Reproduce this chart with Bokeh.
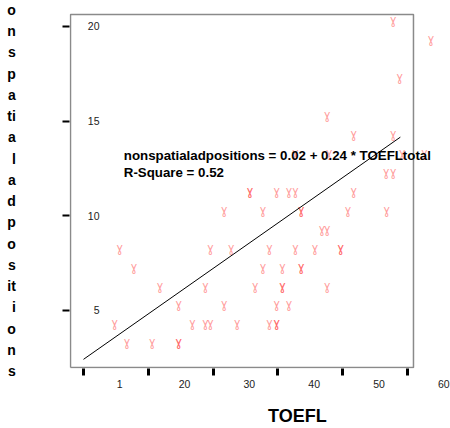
from bokeh.plotting import figure
from bokeh.models import ColumnDataSource, Range1d, FixedTicker, LinearAxis, Label
from bokeh.core.properties import value
from bokeh.embed import file_html
from bokeh.resources import INLINE

# ---- data ----
toefl = [57.8, 63.6, 58.8, 47.6, 51.7, 57.8,
         42.7, 47.9, 59.2, 62.6, 56.7, 57.8,
         35.7, 35.7, 39.8, 41.7, 42.7, 51.7,
         31.7, 37.7, 43.6, 43.6, 50.8, 56.8,
         46.8, 47.6,
         15.6, 29.6, 32.8, 38.7, 42.7, 45.7, 49.7, 49.7,
         17.8, 37.7, 40.7, 43.6, 43.6,
         21.8, 28.8, 36.5, 40.7, 40.7, 47.6,
         24.7, 31.7, 39.8, 41.7,
         14.8, 26.8, 28.8, 29.6, 33.7, 38.7, 39.8, 39.8,
         16.7, 20.6, 24.7, 24.7]
nonspatial = [20, 19, 17, 15, 14, 14,
              13, 13, 13, 13, 12, 12,
              11, 11, 11, 11, 11, 11,
              10, 10, 10, 10, 10, 10,
              9, 9,
              8, 8, 8, 8, 8, 8, 8, 8,
              7, 7, 7, 7, 7,
              6, 6, 6, 6, 6, 6,
              5, 5, 5, 5,
              4, 4, 4, 4, 4, 4, 4, 4,
              3, 3, 3, 3]

intercept = 0.02
slope = 0.24
r_square = 0.52
fit_x = [10.0, 58.9]
fit_y = [intercept + slope * v for v in fit_x]

x_ticks = [10, 20, 30, 40, 50, 60]
x_tick_labels = ["1", "20", "30", "40", "50", "60"]
x_label_shift = 5.6
y_ticks = [5, 10, 15, 20]
y_label_letters = ["o", "n", "s", "p", "a", "ti", "a", "l", "a",
                   "d", "p", "o", "s", "it", "i", "o", "n", "s"]
x_title = "TOEFL"
x_title_at = 43.0

# ---- figure ----
X0, X1 = 7.8395, 66.64
Y0, Y1 = 1.9366, 20.739
BX0, BX1, BY0, BY1 = 7.994, 60.926, 1.989, 20.634

p = figure(width=450, height=428, output_backend="svg", toolbar_location=None,
           x_range=Range1d(X0, X1), y_range=Range1d(Y0, Y1),
           min_border_left=69, min_border_right=0, min_border_top=12,
           min_border_bottom=60, x_axis_location=None, y_axis_location=None)
p.outline_line_color = None
p.xgrid.visible = False
p.ygrid.visible = False
p.background_fill_color = "white"
p.border_fill_color = "white"

FONT = "Liberation Sans"

# x axis: value ticks as minor ticks, labels shifted right
lab_pos = [t + x_label_shift for t in x_ticks]
xax = LinearAxis(ticker=FixedTicker(ticks=lab_pos, minor_ticks=x_ticks))
xax.major_label_overrides = {pos: lab for pos, lab in zip(lab_pos, x_tick_labels)}
xax.axis_line_color = None
xax.major_tick_out = 0
xax.major_tick_in = 0
xax.major_tick_line_color = None
xax.minor_tick_out = 7
xax.minor_tick_in = 0
xax.minor_tick_line_width = 3
xax.minor_tick_line_color = "black"
xax.major_label_standoff = 4
xax.major_label_text_font = FONT
xax.major_label_text_font_size = "10.5px"
xax.major_label_text_color = "#222222"
p.add_layout(xax, "below")

# x title as a second axis (single labelled tick)
tax = LinearAxis(ticker=FixedTicker(ticks=[x_title_at], minor_ticks=[]))
tax.major_label_overrides = {x_title_at: x_title}
tax.axis_line_color = None
tax.major_tick_line_color = None
tax.minor_tick_line_color = None
tax.major_tick_out = 0
tax.major_tick_in = 0
tax.major_label_standoff = 15
tax.major_label_text_font = FONT
tax.major_label_text_font_style = "bold"
tax.major_label_text_font_size = "18px"
tax.major_label_text_color = "black"
p.add_layout(tax, "below")

yax = LinearAxis(ticker=FixedTicker(ticks=y_ticks, minor_ticks=[]))
yax.axis_line_color = None
yax.major_tick_out = 7
yax.major_tick_in = 0
yax.major_tick_line_width = 2
yax.major_tick_line_color = "black"
yax.minor_tick_line_color = None
yax.major_label_standoff = -37
yax.major_label_text_font = FONT
yax.major_label_text_font_size = "10.5px"
yax.major_label_text_color = "#222222"
yax.axis_label = "\n".join(y_label_letters)
if "axis_label_orientation" in LinearAxis.properties():
    yax.axis_label_orientation = "horizontal"
yax.axis_label_standoff = 69
yax.axis_label_text_font = FONT
yax.axis_label_text_font_style = "bold"
yax.axis_label_text_font_size = "14px"
yax.axis_label_text_line_height = 1.329
yax.axis_label_text_color = "black"
p.add_layout(yax, "left")

# plot box
p.line([BX0, BX0, BX1, BX1, BX0], [BY0, BY1, BY1, BY0, BY0],
       line_color="#8a8a8a", line_width=1.5)

# points
src = ColumnDataSource(dict(x=toefl, y=nonspatial))
p.text(x="x", y="y", text=value("\u0263"), source=src,
       text_font=value("DejaVu Sans"), text_font_size="11.5px",
       text_color="#ff3b3b", text_alpha=0.5,
       text_align="center", text_baseline="middle", y_offset=-6)

# fit line
p.line(fit_x, fit_y, line_color="black", line_width=1)

# equation text
px_per_x = 381 / (X1 - X0)
px_per_y = 356 / (Y1 - Y0)
def dx(px):
    return X0 + (px - 69) / px_per_x
def dy(py):
    return Y0 + (368 - py) / px_per_y

eq1 = f"nonspatialadpositions = {intercept:.2f} + {slope:.2f} * TOEFLtotal"
eq2 = f"R-Square = {r_square:.2f}"
for txt, py in [(eq1, 155), (eq2, 171.7)]:
    p.add_layout(Label(x=dx(123.3), y=dy(py), text=txt,
                       text_font=FONT, text_font_style="bold",
                       text_font_size="13.3px", text_color="black",
                       text_baseline="middle", text_align="left"))

open("out.html", "w").write(file_html(p, INLINE))
